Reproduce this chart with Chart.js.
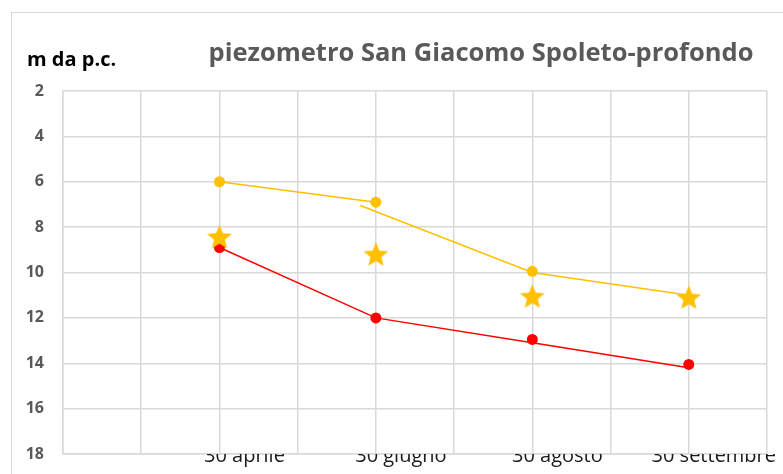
<!DOCTYPE html>
<html>
<head>
<meta charset="utf-8">
<script src="https://cdn.jsdelivr.net/npm/chart.js@4"></script>
<style>
  html, body { margin: 0; padding: 0; background: #fff; }
  #wrap { width: 783px; height: 474px; }
</style>
</head>
<body>
<div id="wrap"><canvas id="chart" width="783" height="474"></canvas></div>
<script>
// --- Data ---
const dates = ['30 aprile', '30 giugno', '30 agosto', '30 settembre'];
const slots = [2, 4, 6, 8];                 // x positions of the dates on a 0..9 grid
const yellowDots = [6.0, 6.9, 9.95, null];
const redDots = [8.9, 12.0, 12.95, 14.05];
const starVals = [8.43, 9.2, 11.05, 11.1];
const redLine = [8.9, 12.0, 13.1, 14.2];
const yellowLineA = { x: [2, 4], y: [6.0, 6.9] };
const yellowLineB = { x: [3.8, 6, 8], y: [7.05, 10.0, 11.0] };
const yTicks = { min: 2, max: 18, step: 2 };

const YELLOW = '#FFC000';
const RED = '#FF0000';
const GRID = '#d9d9d9';

const pts = (xs, ys) => xs.map((x, i) => ({ x: x, y: ys[i] })).filter(p => p.y !== null);

// filled five-point star used as point style
function makeStar(size, color) {
    const c = document.createElement('canvas');
    c.width = size; c.height = size;
    const g = c.getContext('2d');
    const cx = size / 2, cy = size / 2 + 1, R = size / 2, r = R * 0.44;
    g.beginPath();
    for (let i = 0; i < 10; i++) {
        const rad = i % 2 === 0 ? R : r;
        const a = -Math.PI / 2 + i * Math.PI / 5;
        g.lineTo(cx + rad * Math.cos(a), cy + rad * Math.sin(a));
    }
    g.closePath();
    g.fillStyle = color;
    g.fill();
    return c;
}
const starImg = makeStar(26, YELLOW);

// title, axis caption and outer frame
const decor = {
    id: 'decor',
    beforeDraw(chart) {
        const ctx = chart.ctx;
        ctx.save();
        ctx.strokeStyle = GRID;
        ctx.lineWidth = 1;
        ctx.strokeRect(11.5, 12.5, 800, 500);
        ctx.restore();
    },
    afterDraw(chart) {
        const ctx = chart.ctx;
        ctx.save();
        ctx.textBaseline = 'alphabetic';
        ctx.fillStyle = '#595959';
        ctx.font = 'bold 25.5px "Open Sans"';
        ctx.textAlign = 'center';
        ctx.fillText('piezometro San Giacomo Spoleto-profondo', 481, 61);
        ctx.fillStyle = '#000';
        ctx.font = 'bold 20px "Open Sans"';
        ctx.textAlign = 'left';
        ctx.fillText('m da p.c.', 27, 66);
        ctx.restore();
    }
};

new Chart(document.getElementById('chart'), {
    type: 'scatter',
    data: {
        datasets: [
            {
                label: 'stelle',
                data: pts(slots, starVals),
                pointStyle: starImg,
                order: 0
            },
            {
                label: 'punti gialli',
                data: pts(slots, yellowDots),
                pointRadius: 5.5,
                backgroundColor: YELLOW,
                borderWidth: 0,
                order: 1
            },
            {
                label: 'punti rossi',
                data: pts(slots, redDots),
                pointRadius: 5.5,
                backgroundColor: RED,
                borderWidth: 0,
                order: 1
            },
            {
                label: 'linea rossa',
                data: pts(slots, redLine),
                showLine: true,
                pointRadius: 0,
                borderColor: RED,
                borderWidth: 1.5,
                order: 2
            },
            {
                label: 'linea gialla 1',
                data: pts(yellowLineA.x, yellowLineA.y),
                showLine: true,
                pointRadius: 0,
                borderColor: YELLOW,
                borderWidth: 1.5,
                order: 2
            },
            {
                label: 'linea gialla 2',
                data: pts(yellowLineB.x, yellowLineB.y),
                showLine: true,
                pointRadius: 0,
                borderColor: YELLOW,
                borderWidth: 1.5,
                order: 2
            }
        ]
    },
    options: {
        responsive: false,
        animation: false,
        devicePixelRatio: 1,
        layout: { padding: { top: 91, right: 16, bottom: 0, left: 0 } },
        plugins: {
            legend: { display: false },
            tooltip: { enabled: false },
            title: { display: false }
        },
        scales: {
            x: {
                type: 'linear',
                min: 0,
                max: 9,
                grid: { color: GRID, lineWidth: 1.5, drawTicks: false },
                border: { color: GRID, width: 1.5 },
                ticks: {
                    stepSize: 1,
                    autoSkip: false,
                    maxRotation: 0,
                    padding: -10,
                    labelOffset: 25,
                    color: '#1a1a1a',
                    font: { family: '"Open Sans"', size: 20 },
                    callback: (v) => {
                        const i = slots.indexOf(v);
                        return i >= 0 ? dates[i] : '';
                    }
                },
                afterFit: (s) => { s.height = 20; s.paddingTop = 0; s.paddingBottom = 0; }
            },
            y: {
                reverse: true,
                min: yTicks.min,
                max: yTicks.max,
                grid: { color: GRID, lineWidth: 1.5, drawTicks: false },
                border: { color: GRID, width: 1.5 },
                ticks: {
                    stepSize: yTicks.step,
                    padding: 19,
                    color: '#595959',
                    font: { family: '"Open Sans"', size: 16, weight: 'bold' }
                },
                afterFit: (s) => { s.width = 63; s.paddingTop = 0; s.paddingBottom = 0; }
            }
        }
    },
    plugins: [decor]
});
</script>
</body>
</html>
